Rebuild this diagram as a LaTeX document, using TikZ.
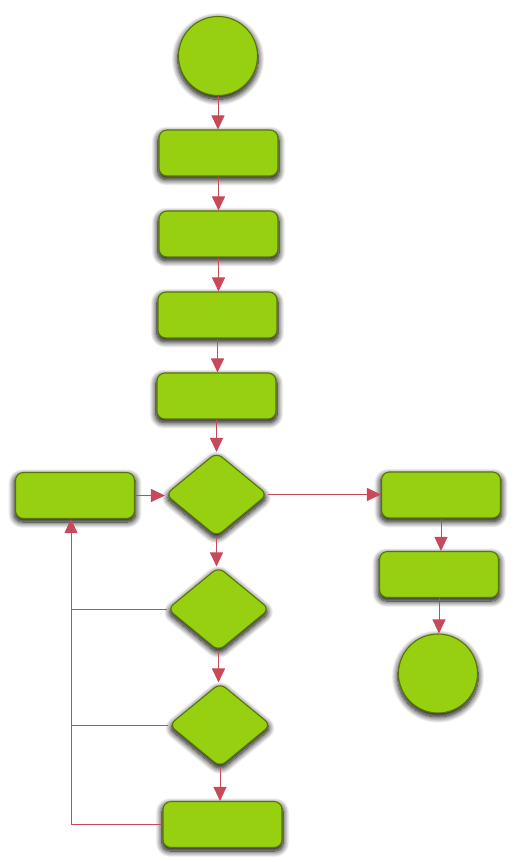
\documentclass[tikz,border=0pt]{standalone}
\usetikzlibrary{shapes.geometric,arrows.meta,shadows.blur}
\definecolor{fillg}{RGB}{151,208,16}
\definecolor{edgeg}{RGB}{88,118,0}
\definecolor{arrc}{RGB}{200,74,90}
\tikzset{
  sh/.style={blur shadow={shadow xshift=0pt,shadow yshift=-3pt,shadow scale=1.02,shadow blur radius=6pt,shadow blur steps=12,shadow opacity=100}},
  procbox/.style={draw=edgeg,fill=fillg,line width=1.1pt,rounded corners=8pt,minimum width=119pt,minimum height=46pt,inner sep=0pt,sh},
  decis/.style={diamond,draw=edgeg,fill=fillg,line width=1.1pt,rounded corners=7pt,minimum width=102pt,minimum height=84pt,inner sep=0pt,sh},
  term/.style={circle,draw=edgeg,fill=fillg,line width=1.1pt,minimum size=79pt,inner sep=0pt,sh},
  conn/.style={draw=arrc,line width=1pt},
  arr/.style={conn,-{Triangle[width=13pt,length=14pt]}}
}
\begin{document}
\begin{tikzpicture}[x=1pt,y=-1pt]
\useasboundingbox (0,0) rectangle (512,862);
\node[term] (start) at (218,56) {};
\node[procbox] (b1) at (218.5,153) {};
\node[procbox] (b2) at (218.5,234) {};
\node[procbox] (b3) at (217.5,315) {};
\node[procbox] (b4) at (216.5,396) {};
\node[decis] (d1) at (216.5,494.5) {};
\node[procbox] (lb) at (75,495.5) {};
\node[decis] (d2) at (218.5,609) {};
\node[decis] (d3) at (220,725) {};
\node[procbox] (bb) at (222.5,824.5) {};
\node[procbox] (r1) at (441,495) {};
\node[procbox] (r2) at (439,574.5) {};
\node[term] (fin) at (438,673.5) {};
\coordinate (lx) at (71,0);
\draw[arr] (start.south) -- (start.south |- b1.north);
\draw[arr] (b1.south) -- (b1.south |- b2.north);
\draw[arr] (b2.south) -- (b2.south |- b3.north);
\draw[arr] (b3.south) -- (b3.south |- b4.north);
\draw[arr] (b4.south) -- (b4.south |- d1.north);
\draw[arr] (d1.south) -- (d1.south |- d2.north);
\draw[arr] (d2.south) -- (d2.south |- d3.north);
\draw[arr] (d3.south) -- (d3.south |- bb.north);
\draw[arr] (lb.east) -- (lb.east -| d1.west);
\draw[arr] (d1.east) -- (d1.east -| r1.west);
\draw[arr] (r1.south) -- (r1.south |- r2.north);
\draw[arr] (r2.south) -- (r2.south |- fin.north);
\draw[arr] (bb.west) -- (bb.west -| lx) -- (lx |- lb.south);
\draw[conn] (d2.west) -- (d2.west -| lx);
\draw[conn] (d3.west) -- (d3.west -| lx);
\end{tikzpicture}
\end{document}
